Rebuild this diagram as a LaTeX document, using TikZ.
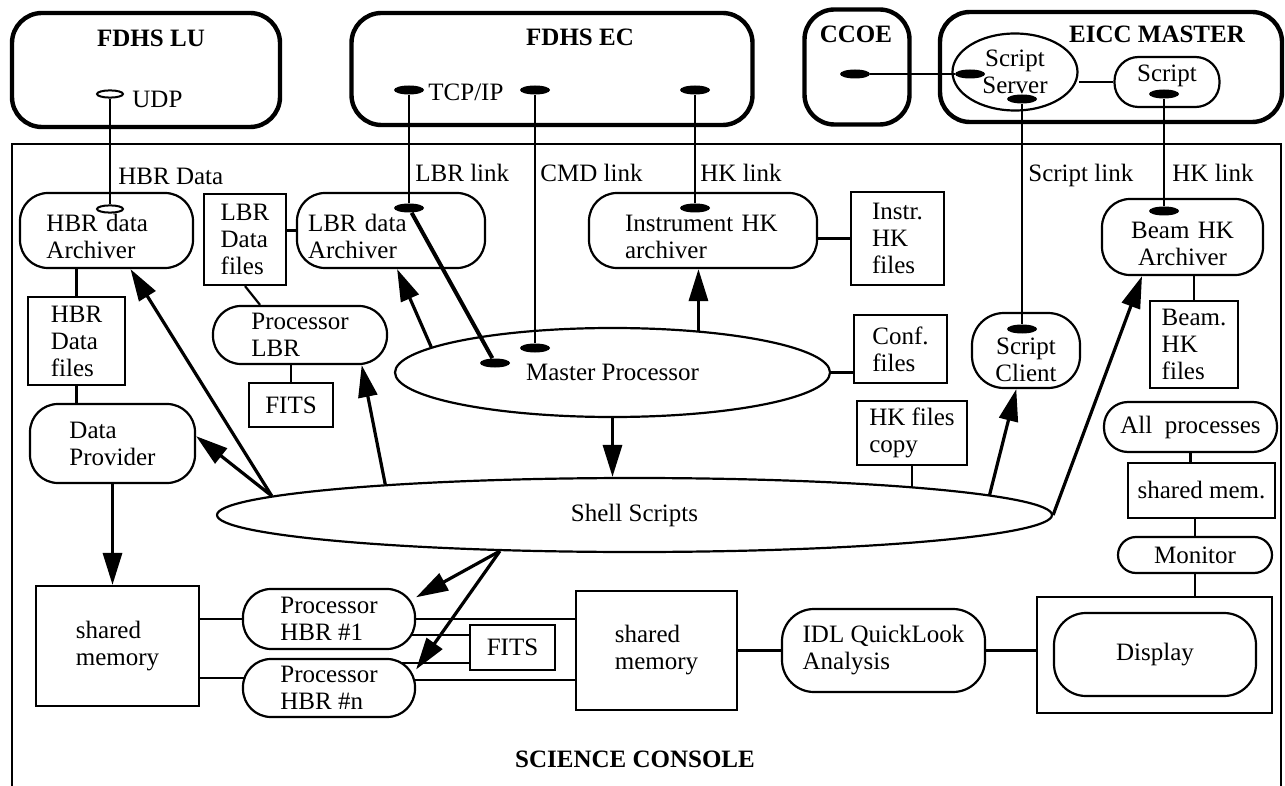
\documentclass[tikz,border=0pt]{standalone}
\usepackage{fontspec}
\setmainfont{Liberation Serif}
\usetikzlibrary{positioning, shapes.geometric, arrows.meta, backgrounds}

\begin{document}
\begin{tikzpicture}[
        x=0.5pt, y=-0.5pt,
        every node/.style={font=\fontsize{12.5}{13.5}\selectfont},
        >={Triangle[length=16pt, width=9.5pt]},
        station/.style={draw, line width=2.2pt, rounded corners=15pt},
        title/.style={font=\fontsize{12.5}{13.5}\selectfont\bfseries, anchor=base, inner sep=0pt},
        task/.style={draw, fill=white, line width=1.1pt, rounded corners=#1, align=left, inner sep=2pt},
        task/.default=14pt,
        ported/.style={execute at begin node={\rule{0pt}{#1}}},
        ported/.default=15pt,
        store/.style={draw, fill=white, line width=1.1pt, align=left, inner sep=2pt},
        blob/.style={draw, fill=white, ellipse, line width=1.1pt, inner sep=0pt, align=center},
        port/.style={ellipse, fill, inner sep=0pt, minimum width=15pt, minimum height=4.5pt},
        openport/.style={ellipse, draw, fill=white, line width=1pt, inner sep=0pt, minimum width=13pt, minimum height=3.6pt},
        tag/.style={anchor=base west, inner sep=0pt},
        link/.style={line width=1.3pt},
        wire/.style={line width=1.1pt},
        arrow/.style={->, line width=1.6pt}
    ]
        \useasboundingbox (0,0) rectangle (1285,786);

        % Science console frame
        \draw[line width=1.2pt] (12,786) |- (1281,144) -- (1281,786);

        % Outside stations
        \node[station, minimum width=134pt, minimum height=57pt] (fdhsLU) at (146,70) {};
        \node[station, minimum width=200.5pt, minimum height=56pt] (fdhsEC) at (552,69) {};
        \node[station, minimum width=52.5pt, minimum height=57.5pt] (ccoe) at (857,67) {};
        \node[station, minimum width=171pt, minimum height=55pt] (eicc) at (1111,67) {};
        \node[title] (luTitle) at (151,47) {FDHS LU};
        \node[title] (ecTitle) at (580,46) {FDHS EC};
        \node[title] (ccoeTitle) at (856,43) {CCOE};
        \node[title] (eiccTitle) at (1157,43) {EICC MASTER};

        \node[blob, minimum width=62.5pt, minimum height=38.5pt] (server) at (1015,72) {Script\\Server};
        \node[task=12pt, align=center, minimum width=52.5pt, minimum height=25pt, text depth=8.5pt] (script) at (1167,82) {Script};

        % Archivers and files
        \node[task, ported, minimum width=86.5pt, minimum height=37.5pt, text width=60pt, inner xsep=13pt] (hbrArch) at (106.5,230.5) {HBR data\\Archiver};
        \node[store, minimum width=48.5pt, minimum height=44pt] (hbrFiles) at (76.5,341) {HBR\\Data\\files};
        \node[store, minimum width=41pt, minimum height=45.5pt] (lbrFiles) at (245,239.5) {LBR\\Data\\files};
        \node[task, ported, minimum width=94pt, minimum height=37.5pt, text width=83pt, inner xsep=5.5pt] (lbrArch) at (391,230.5) {LBR data\\Archiver};
        \node[task, ported, minimum width=114pt, minimum height=37.5pt, text width=78pt] (instArch) at (703,230.5) {Instrument HK\\archiver};
        \node[store, minimum width=46.5pt, minimum height=46.5pt] (instFiles) at (897.5,238.5) {Instr.\\HK\\files};
        \node[task, ported, align=center, minimum width=80.5pt, minimum height=38pt, text width=52pt] (beamArch) at (1182.5,237) {Beam HK\\Archiver};
        \node[store, minimum width=44pt, minimum height=43.5pt] (beamFiles) at (1194,344.5) {Beam.\\HK\\files};

        % Processes
        \node[task, minimum width=82.5pt, minimum height=39.5pt] (dataProv) at (112.5,443.5) {Data\\Provider};
        \node[task, minimum width=87pt, minimum height=29pt] (procLBR) at (300,335) {Processor\\LBR};
        \node[store, minimum width=42pt, minimum height=22pt] (fitsUp) at (291,405) {FITS};
        \node[blob, minimum width=217.5pt, minimum height=44.5pt] (master) at (612.5,372.5) {Master Processor};
        \node[store, minimum width=46.5pt, minimum height=34pt] (confFiles) at (900.5,349) {Conf.\\files};
        \node[store, minimum width=55pt, minimum height=32pt] (hkCopy) at (912,433) {HK files\\copy};
        \node[task=16pt, ported=17.5pt, align=center, minimum width=54pt, minimum height=37.5pt, text width=34pt] (scriptClient) at (1026,350.5) {Script\\Client};
        \node[task=12pt, minimum width=86.5pt, minimum height=25pt] (allProc) at (1190.5,427) {All\ \ processes};
        \node[store, minimum width=73.5pt, minimum height=27.5pt] (sharedSmall) at (1201.5,490.5) {shared mem.};
        \node[task=9pt, minimum width=77pt, minimum height=18pt] (monitor) at (1195,555) {Monitor};
        \node[blob, minimum width=417.5pt, minimum height=37pt] (shell) at (634.5,515) {Shell Scripts};

        % Quick look chain
        \node[store, minimum width=81.5pt, minimum height=60pt] (smemLeft) at (117.5,646) {shared\\memory};
        \node[task, minimum width=86pt, minimum height=30pt] (hbr1) at (329,619) {Processor\\HBR \#1};
        \node[task, minimum width=86pt, minimum height=29pt] (hbrN) at (329,688) {Processor\\HBR \#n};
        \node[store, minimum width=42.5pt, minimum height=22.5pt] (fitsLow) at (512.5,647.5) {FITS};
        \node[store, minimum width=80.5pt, minimum height=59.5pt] (smemMid) at (656.5,650.5) {shared\\memory};
        \node[task=16pt, minimum width=101.5pt, minimum height=41.5pt] (idl) at (883.5,650.5) {IDL QuickLook\\Analysis};
        \node[store, minimum width=117.5pt, minimum height=58pt] (dispFrame) at (1154.5,655) {};
        \node[task=16pt, align=center, minimum width=101pt, minimum height=41.5pt] (display) at (1155,654.5) {Display};
        \node[title] (consoleTitle) at (635,767) {SCIENCE CONSOLE};

        % Link end points
        \node[openport] (udpPort) at (110,94) {};
        \node[openport] (hbrIn) at (110,209) {};
        \node[port] (tcpPort) at (409,90) {};
        \node[port] (lbrIn) at (409,208) {};
        \node[port] (cmdPort) at (535,90) {};
        \node[port] (hkPort) at (695,90) {};
        \node[port] (hkIn) at (695,208) {};
        \node[port] (mpLbr) at (495,363) {};
        \node[port] (mpCmd) at (535,348) {};
        \node[port] (ccoePort) at (855,74) {};
        \node[port] (serverIn) at (970,74) {};
        \node[port] (serverOut) at (1022,99) {};
        \node[port] (clientIn) at (1022,329) {};
        \node[port] (scriptOut) at (1164,94) {};
        \node[port] (beamIn) at (1164,211) {};

        % Links
        \draw[link] (udpPort) -- (hbrIn);
        \draw[link] (tcpPort) -- (lbrIn);
        \draw[line width=2pt] (lbrIn) -- (mpLbr);
        \draw[link] (cmdPort) -- (mpCmd);
        \draw[link] (hkPort) -- (hkIn);
        \draw[link] (ccoePort) -- (serverIn);
        \draw[link] (serverOut) -- (clientIn);
        \draw[link] (scriptOut) -- (beamIn);
        \draw[wire] (script.west) -- (script.west -| server.east);

        \node[tag] (udpLabel) at (132,108) {UDP};
        \node[tag] (tcpLabel) at (428,101) {TCP/IP};
        \node[tag] (hbrLabel) at (118,185) {HBR Data};
        \node[tag] (lbrLabel) at (415,182) {LBR link};
        \node[tag] (cmdLabel) at (540,182) {CMD link};
        \node[tag] (hkLabel) at (700,182) {HK link};
        \node[tag] (scriptLabel) at (1028,182) {Script link};
        \node[tag] (beamLabel) at (1172,182) {HK link};

        % Plain connections
        \draw[wire] (hbrFiles.north) -- (hbrFiles.north |- hbrArch.south);
        \draw[wire] (hbrFiles.south) -- (hbrFiles.south |- dataProv.north);
        \draw[wire] (lbrArch.west) -- (lbrArch.west -| lbrFiles.east);
        \draw[wire] (lbrFiles.south) -- (procLBR.143);
        \draw[wire] (fitsUp.north) -- (fitsUp.north |- procLBR.south);
        \draw[wire] (instFiles.west) -- (instFiles.west -| instArch.east);
        \draw[wire] (master.east) -- (master.east -| confFiles.west);
        \draw[wire] (beamFiles.north) -- (beamFiles.north |- beamArch.south);
        \draw[wire] (allProc.south) -- (allProc.south |- sharedSmall.north);
        \draw[wire] (monitor.north) -- (monitor.north |- sharedSmall.south);
        \draw[wire] (monitor.south) -- (monitor.south |- dispFrame.north);
        \draw[wire] (smemMid.east) -- (idl.west);
        \draw[wire] (idl.east) -- (idl.east -| dispFrame.west);

        % Lines tucked under the white boxes
        \begin{scope}[on background layer]
            \draw[wire] (hkCopy.south) -- (hkCopy.south |- shell.center);
            \draw[arrow] ([xshift=175pt]shell.center) -- (scriptClient);
            \draw[wire] (hbr1.center) -- (hbr1.center -| smemLeft.east);
            \draw[wire] ([yshift=5pt]hbrN.center) -- ([yshift=5pt]hbrN.center -| smemLeft.east);
            \draw[wire] (hbr1.center) -- (hbr1.center -| smemMid.west);
            \draw[wire] ([yshift=4pt]hbrN.center) -- ([yshift=4pt]hbrN.center -| smemMid.west);
            \draw[wire] ([yshift=-8pt]hbr1.center) -- ([yshift=-8pt]hbr1.center -| fitsLow.west);
            \draw[wire] ([yshift=12.5pt]hbrN.center) -- ([yshift=12.5pt]hbrN.center -| fitsLow.west);
        \end{scope}

        % Control arrows
        \draw[arrow] (dataProv.south) -- (dataProv.south |- smemLeft.north);
        \draw[arrow] (shell.177) -- (hbrArch);
        \draw[arrow] (shell.177) -- (dataProv.5);
        \draw[arrow] (shell.173) -- (procLBR.-26);
        \draw[arrow] (master.172) -- (lbrArch.-81);
        \draw[arrow] (master.26) -- (master.26 |- instArch.south);
        \draw[arrow] (master.south) -- (master.south |- shell.north);
        \draw[arrow] (shell.east) -- (beamArch.-136);
        \draw[arrow] (shell.-165.4) -- (hbr1.14);
        \draw[arrow] (shell.-165.4) -- (hbrN.12);
\end{tikzpicture}
\end{document}
